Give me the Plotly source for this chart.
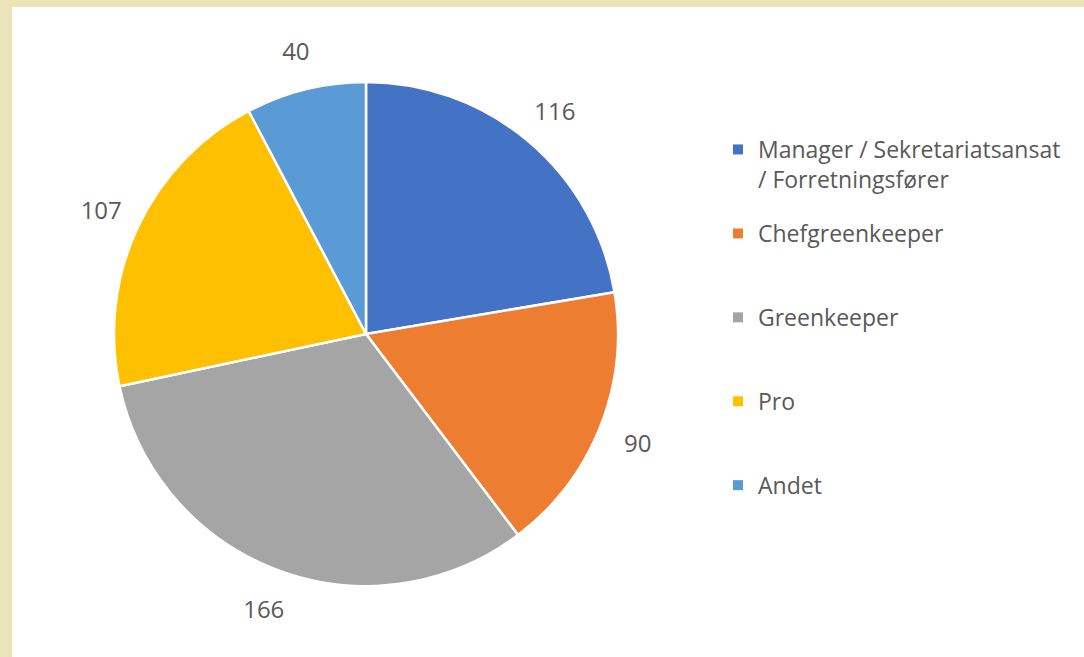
import plotly.graph_objects as go

# Respondent roles
labels = ["Manager / Sekretariatsansat<br>/ Forretningsfører", "Chefgreenkeeper", "Greenkeeper", "Pro", "Andet"]
values = [116, 90, 166, 107, 40]
colors = ["#4472C4", "#ED7D31", "#A5A5A5", "#FFC000", "#5B9BD5"]

W, H = 1084, 657
txt = "#595959"
font = "Open Sans, sans-serif"

fig = go.Figure()

# the pie itself
fig.add_trace(go.Pie(
    labels=labels, values=values, sort=False, direction="clockwise", rotation=0,
    marker=dict(colors=colors, line=dict(color="white", width=2.5)),
    textinfo="none", showlegend=False, hoverinfo="label+value",
    domain=dict(x=[(366 - 252) / W, (366 + 252) / W], y=[1 - 586 / H, 1 - 82 / H]),
))

# transparent ring just to hold the value labels outside the pie
fig.add_trace(go.Pie(
    labels=labels, values=values, sort=False, direction="clockwise", rotation=0,
    hole=262 / 323,
    marker=dict(colors=["rgba(0,0,0,0)"] * len(values), line=dict(width=0)),
    textinfo="value", textposition="inside", insidetextorientation="horizontal",
    textfont=dict(color=txt, size=24, family=font),
    showlegend=False, hoverinfo="skip",
    domain=dict(x=[(366 - 323) / W, (366 + 323) / W], y=[0, 1 - 11 / H]),
))

# legend entries: first (two-line) one in its own legend, rest evenly spaced
for i, (lab, c) in enumerate(zip(labels, colors)):
    fig.add_trace(go.Scatter(
        x=[None], y=[None], mode="markers", name=lab, legendgroup=lab,
        legend="legend" if i == 0 else "legend2",
        marker=dict(symbol="square", size=10, color=c), hoverinfo="skip",
    ))

leg = dict(x=718 / W, xanchor="left", yanchor="top", valign="top",
           bgcolor="rgba(0,0,0,0)", font=dict(size=23, color=txt, family=font))

fig.update_layout(
    width=W, height=H,
    margin=dict(l=0, r=0, t=0, b=0),
    paper_bgcolor="#E9E5B9",
    plot_bgcolor="white",
    xaxis=dict(visible=False, domain=[12 / W, 1]),
    yaxis=dict(visible=False, domain=[0, 1 - 7 / H]),
    font=dict(family=font, color=txt, size=22),
    legend=dict(leg, y=1 - 128 / H),
    legend2=dict(leg, y=1 - 212 / H, tracegroupgap=51),
)

fig.write_html("out.html", config={"displayModeBar": False},
               post_script="document.body.style.margin='0';")
